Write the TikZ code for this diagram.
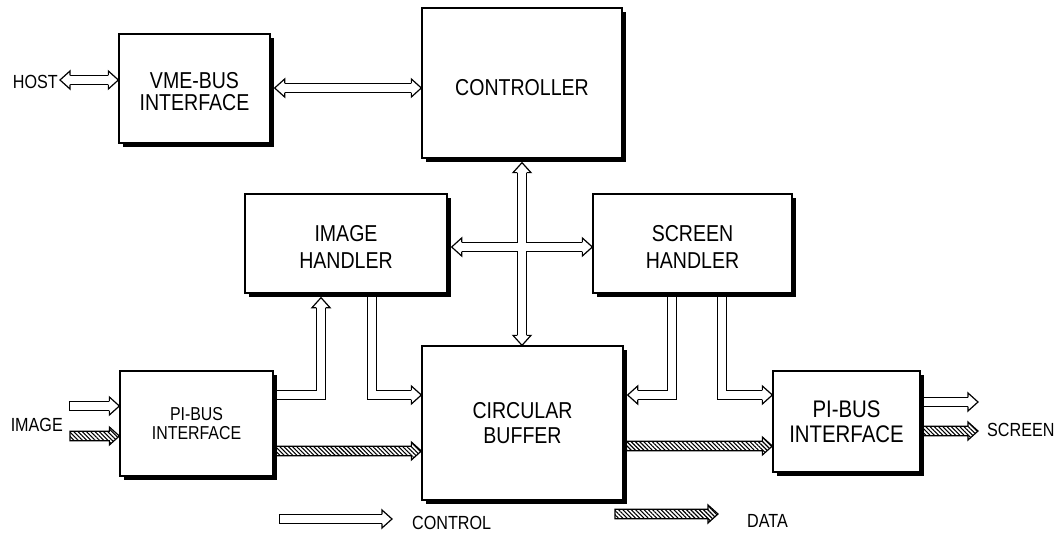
\documentclass[tikz,border=0pt]{standalone}
\usepackage{fontspec}
\setmainfont{Liberation Sans}[FakeStretch=0.85]
\usetikzlibrary{calc,shadows,patterns.meta}
\pgfdeclarelayer{back}
\pgfdeclarelayer{conn}
\pgfsetlayers{back,conn,main}

\newcommand\lowr[1]{\rule{0pt}{#1}}

\tikzset{
  box/.style={draw=black, line width=1.3pt, fill=white, rectangle, align=center, inner sep=0pt,
     drop shadow={shadow xshift=4pt, shadow yshift=-4pt, fill=black, opacity=1}},
  lbl/.style={inner sep=0pt, font=\fontsize{19}{22}\selectfont},
  shaftout/.style={line width=10.6pt, draw=black},
  shaftin/.style={line width=8.2pt, draw=white},
  datafill/.style={draw=black, line width=1.2pt, line join=miter,
     pattern={Lines[angle=-45,distance=3pt,line width=1.1pt]}},
  hhead/.pic={\filldraw[fill=white, draw=black, line width=1.2pt, line join=miter]
     (-10,-4.7) -- (-10,-9) -- (0,0) -- (-10,9) -- (-10,4.7);},
}

\newcommand\shaftpaths[2]{%
  \draw[#1, shorten <=10pt, shorten >=10pt] (hostl) -- (hostr);
  \draw[#1, shorten <=10pt, shorten >=10pt] (vc1) -- (vc2);
  \draw[#1, shorten <=10pt, shorten >=10pt] (cc1) -- (cc2);
  \draw[#1, shorten <=10pt, shorten >=10pt] (hs1) -- (hs2);
  \draw[#1, shorten >=10pt] (lpi.east |- row) -| (ihin);
  \draw[#1, shorten >=10pt] (ihout) |- (cbwrow);
  \draw[#1, shorten >=10pt] (shout1) |- (cbin);
  \draw[#1, shorten >=10pt] (shout2) |- (rpiwrow);
  \draw[#1, shorten <=#2, shorten >=10pt] (ic) -- (ice);
  \draw[#1, shorten >=10pt] (sc) -- (sce);
  \draw[#1, shorten <=#2, shorten >=10pt] (lc1) -- (lc2);
}

\newcommand\datarrow[2]{%
  \filldraw[datafill] ($(#1)+(0,4.7)$) -- ($(#2)+(-10,4.7)$) -- ($(#2)+(-10,9)$) -- (#2)
    -- ($(#2)+(-10,-9)$) -- ($(#2)+(-10,-4.7)$) -- ($(#1)+(0,-4.7)$) -- cycle;}

\begin{document}
\begin{tikzpicture}[x=1pt,y=1pt]
\useasboundingbox (0,0) rectangle (1062,536);
\begin{pgfonlayer}{back}
\fill[white] (0,0) rectangle (1062,536);
\end{pgfonlayer}

% boxes
\node[box, minimum width=151pt, minimum height=109pt, font=\fontsize{23}{22}\selectfont] (vme) at (194.5,447.5) {\lowr{23pt}VME-BUS\\INTERFACE};
\node[box, minimum width=200pt, minimum height=150pt, font=\fontsize{23}{27}\selectfont] (ctrl) at (522,453) {\lowr{26pt}CONTROLLER};
\node[box, minimum width=202pt, minimum height=99pt, font=\fontsize{23}{27}\selectfont] (ih) at (346,292.5) {\lowr{24pt}IMAGE\\HANDLER};
\node[box, minimum width=199pt, minimum height=99pt, font=\fontsize{23}{27}\selectfont] (sh) at (692.5,292.5) {\lowr{23pt}SCREEN\\HANDLER};
\node[box, minimum width=153pt, minimum height=105pt, font=\fontsize{18.7}{18.5}\selectfont] (lpi) at (196.5,112.5) {PI-BUS\\INTERFACE};
\node[box, minimum width=201pt, minimum height=154pt, font=\fontsize{23}{25}\selectfont] (cb) at (522.5,113) {CIRCULAR\\BUFFER};
\node[box, minimum width=147pt, minimum height=101pt, font=\fontsize{24}{25}\selectfont] (rpi) at (846.5,114.5) {PI-BUS\\INTERFACE};

% labels
\node[lbl, anchor=east] (host) at (58,454) {HOST};
\node[lbl, anchor=east] (imglbl) at (63,111) {IMAGE};
\node[lbl, anchor=west] (scrlbl) at (987,106) {SCREEN};
\node[lbl, anchor=west] (lctext) at (412,13) {CONTROL};
\node[lbl, anchor=west] (ldtext) at (747,15) {DATA};

% connector end points
\coordinate (hostl) at (60,456);
\coordinate (hostr) at (vme.west |- hostl);
\path (vme.east) ++(4,0.5) coordinate (vc1);
\coordinate (vc2) at (ctrl.west |- vc1);
\path (ctrl.south) ++(0,-4) coordinate (cc1);
\coordinate (cc2) at (cc1 |- cb.north);
\path (ih.east) ++(4,-3.5) coordinate (hs1);
\coordinate (hs2) at (sh.west |- hs1);
\coordinate (row) at (0,141);
\path (ih.south) ++(-25,-4) coordinate (ihin);
\path (ih.south) ++(26,0) coordinate (ihout);
\coordinate (cbwrow) at (cb.west |- row);
\path (sh.south) ++(-20.5,0) coordinate (shout1);
\path (cb.east |- row) ++(4,0) coordinate (cbin);
\path (sh.south) ++(29.5,0) coordinate (shout2);
\coordinate (rpiwrow) at (rpi.west |- row);
\coordinate (ic) at (70,130);
\coordinate (ice) at (lpi.west |- ic);
\coordinate (id) at (70,100);
\coordinate (ide) at (lpi.west |- id);
\path (rpi.east) ++(0,19.5) coordinate (sc);
\coordinate (sce) at (978,134);
\path (rpi.east) ++(0,-9.5) coordinate (sd);
\coordinate (sde) at (978,105);
\path (lpi.east) ++(0,-27.5) coordinate (d1s);
\coordinate (d1e) at (cb.west |- d1s);
\path (cb.east) ++(0,-23) coordinate (d2s);
\coordinate (d2e) at (rpi.west |- d2s);
\coordinate (lc1) at (280,17);
\coordinate (lc2) at (392,17);
\coordinate (ld1) at (615,22);
\coordinate (ld2) at (718,22);

\begin{pgfonlayer}{conn}
\shaftpaths{shaftout}{-1.2pt}
\shaftpaths{shaftin}{0pt}
\pic[rotate=180] at (hostl) {hhead};
\pic at (hostr) {hhead};
\pic[rotate=180] at (vc1) {hhead};
\pic at (vc2) {hhead};
\pic[rotate=90] at (cc1) {hhead};
\pic[rotate=-90] at (cc2) {hhead};
\pic[rotate=180] at (hs1) {hhead};
\pic at (hs2) {hhead};
\pic[rotate=90] at (ihin) {hhead};
\pic at (cbwrow) {hhead};
\pic[rotate=180] at (cbin) {hhead};
\pic at (rpiwrow) {hhead};
\pic at (ice) {hhead};
\pic at (sce) {hhead};
\pic at (lc2) {hhead};
\datarrow{d1s}{d1e}
\datarrow{d2s}{d2e}
\datarrow{id}{ide}
\datarrow{sd}{sde}
\datarrow{ld1}{ld2}
\end{pgfonlayer}
\end{tikzpicture}
\end{document}
